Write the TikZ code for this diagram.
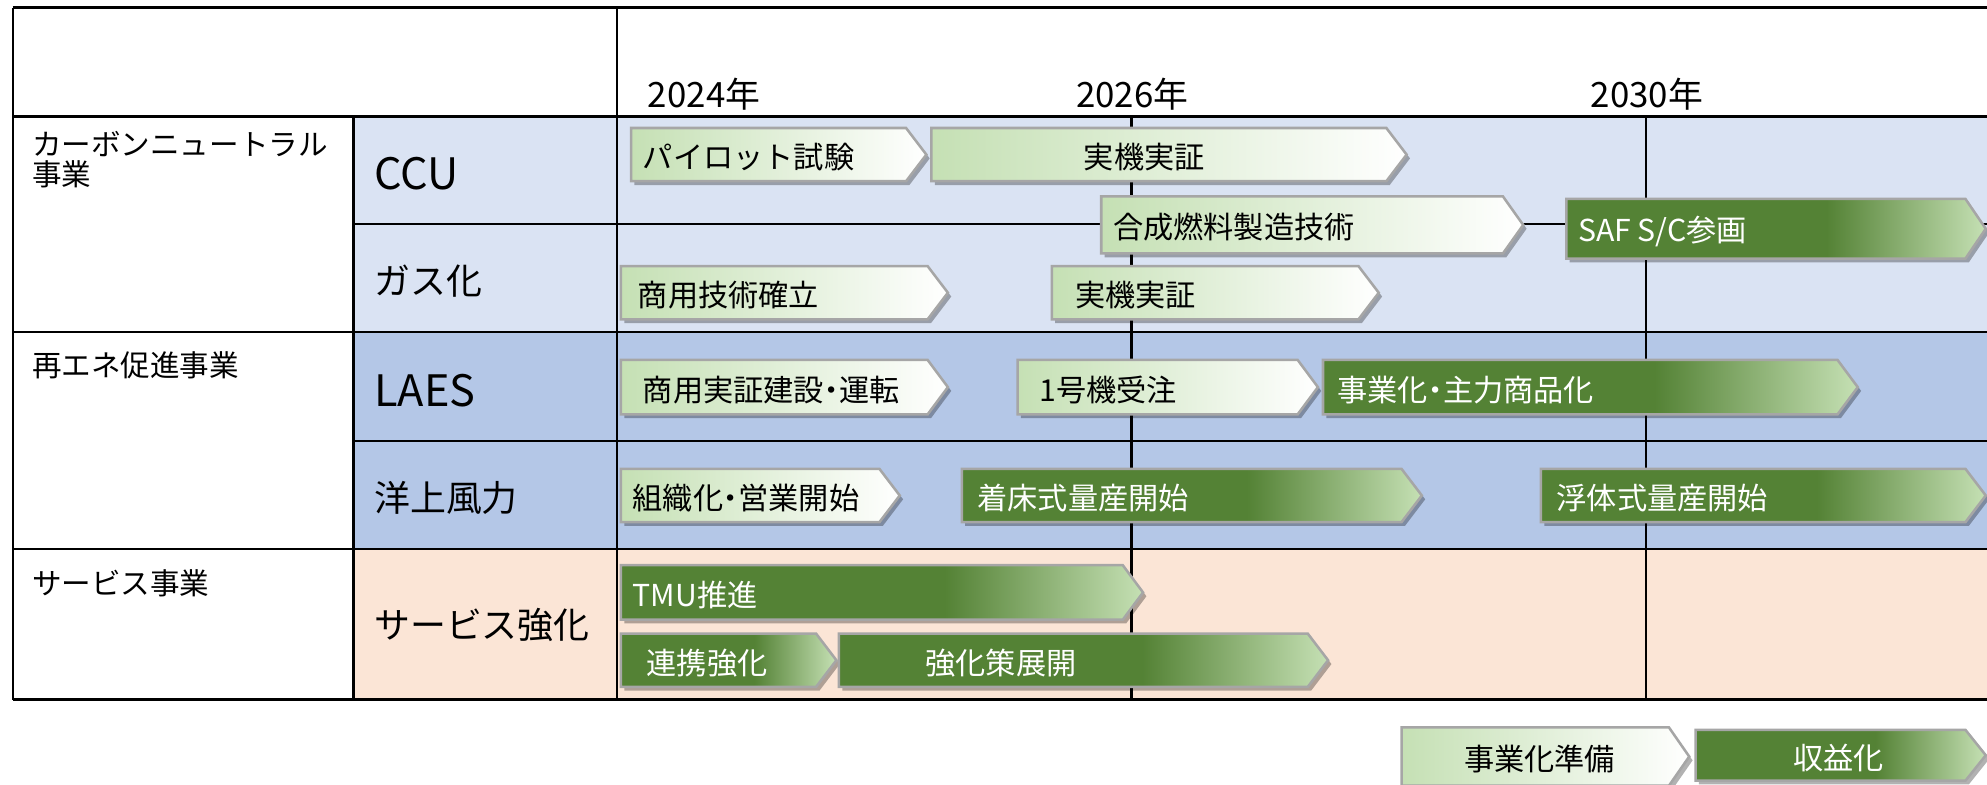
\documentclass[tikz,border=0pt]{standalone}
\usepackage{fontspec}
\setmainfont{Noto Sans CJK JP}
\newfontfamily\paltfont[RawFeature=+palt]{Noto Sans CJK JP}
\newcommand\ndot{{\paltfont ・}}
\usetikzlibrary{shadows}
\definecolor{dg}{HTML}{548235}
\definecolor{lg}{HTML}{C5E0B4}
\definecolor{rowa}{HTML}{DAE3F3}
\definecolor{rowb}{HTML}{B4C7E7}
\definecolor{rowc}{HTML}{FBE5D6}
\definecolor{bordergray}{HTML}{A6A6A6}
\pgfdeclarehorizontalshading{lightarr}{100bp}{color(0bp)=(lg); color(25bp)=(lg); color(75bp)=(white); color(100bp)=(white)}
\pgfdeclarehorizontalshading{darkarr}{100bp}{color(0bp)=(dg); color(25bp)=(dg); color(56bp)=(dg); color(75bp)=(lg); color(100bp)=(lg)}
\tikzset{
  gridline/.style={draw=black, line width=1.1pt},
  arrbox/.style={draw=bordergray, line width=1.2pt, shade,
    drop shadow={shadow xshift=1.6pt, shadow yshift=-1.8pt, fill=black, opacity=0.3}},
  arrtext/.style={anchor=west, inner sep=0pt, font=\fontsize{14.3}{16}\selectfont},
  lightarrtext/.style={text=black},
  darkarrtext/.style={text=white},
  catlabel/.style={anchor=west, inner sep=0pt, align=left, font=\fontsize{14}{14}\selectfont},
  sublabel/.style={anchor=west, inner sep=0pt, font=\fontsize{17}{18}\selectfont},
  sublatin/.style={anchor=west, inner sep=0pt, font=\fontsize{20.5}{21}\selectfont},
  yearlabel/.style={anchor=west, inner sep=0pt, font=\fontsize{16.5}{17}\selectfont}
}
\newcommand\garr[8]{%
  \path[arrbox, shading=#1] (#3,#5) -- ({#4-16},#5) -- (#4,{(#5+#6)/2}) -- ({#4-16},#6) -- (#3,#6) -- cycle;
  \node[arrtext, #1text] (#2) at (#7,{(#5+#6)/2+2}) {#8};
}
\begin{document}
\begin{tikzpicture}[x=0.6pt,y=-0.6pt]
\useasboundingbox (0,0) rectangle (1568,619);
\clip (0,0) rectangle (1568,619);
\fill[white] (0,0) rectangle (1568,619);
% row fills
\fill[rowa] (279,92) rectangle (1570,262);
\fill[rowb] (279,262) rectangle (1570,433);
\fill[rowc] (279,433) rectangle (1570,552);
% grid lines
\draw[gridline] (10,6) -- (1570,6);
\draw[gridline] (10,92) -- (1570,92);
\draw[gridline] (279,177) -- (1570,177);
\draw[gridline] (10,262) -- (1570,262);
\draw[gridline] (279,348) -- (1570,348);
\draw[gridline] (10,433) -- (1570,433);
\draw[gridline] (10,552) -- (1570,552);
\draw[gridline] (10,6) -- (10,552);
\draw[gridline] (279,92) -- (279,552);
\draw[gridline] (487,6) -- (487,552);
\draw[gridline] (893,92) -- (893,552);
\draw[gridline] (1299,92) -- (1299,552);
% year labels
\node[yearlabel] (y2024) at (511,74) {2024年};
\node[yearlabel] (y2026) at (849,74) {2026年};
\node[yearlabel] (y2030) at (1255,74) {2030年};
% category labels
\node[catlabel] (catcn) at (25,126) {カーボンニュートラル\\事業};
\node[catlabel] (catre) at (25,288) {再エネ促進事業};
\node[catlabel] (catsv) at (25,460) {サービス事業};
% sub labels
\node[sublatin] (subccu) at (295,137) {CCU};
\node[sublabel] (subgas) at (295,222) {ガス化};
\node[sublatin] (sublaes) at (295,308) {LAES};
\node[sublabel] (subwind) at (295,393) {洋上風力};
\node[sublabel] (subsv) at (295,493) {サービス強化};
% arrows
\garr{lightarr}{pilot}{498}{731}{101}{143}{507}{パイロット試験}
\garr{lightarr}{ccudemo}{735}{1110}{101}{143}{855}{実機実証}
\garr{lightarr}{synfuel}{869}{1202}{155}{200}{878}{合成燃料製造技術}
\garr{darkarr}{saf}{1236}{1567}{157}{204}{1245}{SAF S/C参画}
\garr{lightarr}{gascomm}{490}{748}{210}{252}{503}{商用技術確立}
\garr{lightarr}{gasdemo}{830}{1088}{210}{252}{848}{実機実証}
\garr{lightarr}{laescomm}{490}{748}{284}{327}{507}{商用実証建設\ndot 運転}
\garr{lightarr}{laesorder}{803}{1040}{284}{327}{820}{1号機受注}
\garr{darkarr}{laesbiz}{1044}{1466}{284}{327}{1055}{事業化\ndot 主力商品化}
\garr{lightarr}{windorg}{490}{710}{370}{412}{499}{組織化\ndot 営業開始}
\garr{darkarr}{windfixed}{759}{1122}{370}{412}{771}{着床式量産開始}
\garr{darkarr}{windfloat}{1216}{1567}{370}{412}{1228}{浮体式量産開始}
\garr{darkarr}{tmu}{490}{902}{446}{489}{499}{TMU推進}
\garr{darkarr}{coop}{490}{660}{500}{542}{510}{連携強化}
\garr{darkarr}{measures}{662}{1048}{500}{542}{730}{強化策展開}
% legend
\garr{lightarr}{legprep}{1106}{1333}{574}{620}{1155}{事業化準備}
\garr{darkarr}{legprofit}{1338}{1567}{576}{616}{1415}{収益化}
\end{tikzpicture}
\end{document}
